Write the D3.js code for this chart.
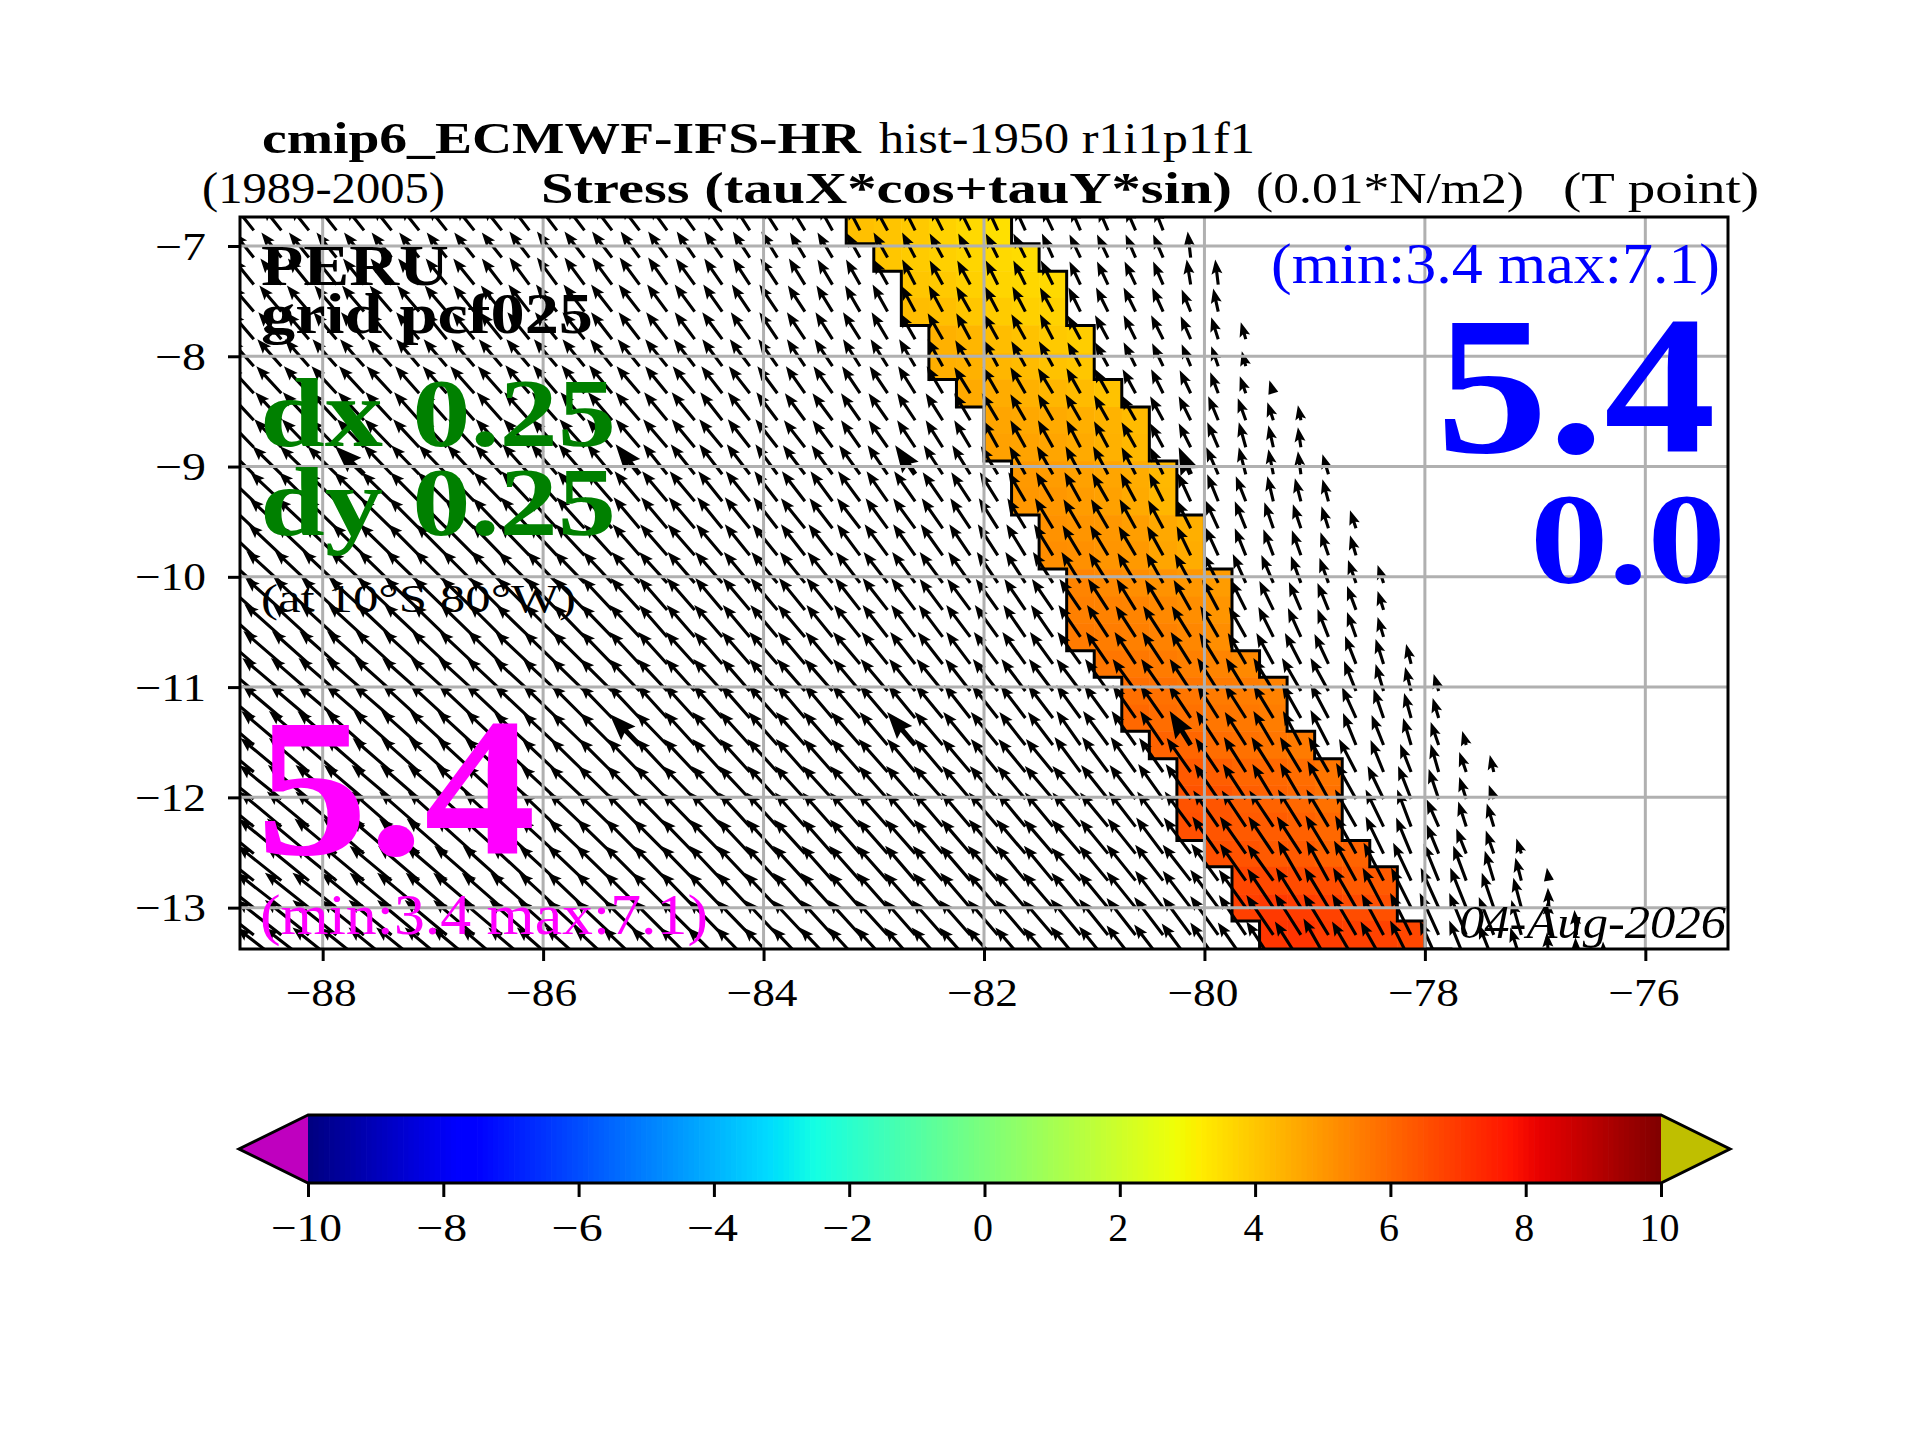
<!DOCTYPE html>
<html>
<head>
<meta charset="utf-8">
<title>Stress PERU</title>
<script src="https://cdn.jsdelivr.net/npm/d3@7"></script>
<style>
  body { margin: 0; background: #fff; }
  text { font-family: "Liberation Serif", serif; }
</style>
</head>
<body>
<div class="chart"></div>
<script>
const lonTicks = [-88, -86, -84, -82, -80, -78, -76];
const latTicks = [-7, -8, -9, -10, -11, -12, -13];
const barTicks = [-10, -8, -6, -4, -2, 0, 2, 4, 6, 8, 10];

// grid cell edges, last one only carries the arrows cut by the frame
const lonStart = -88.75;
const lonStep = 0.25;
const latEdges = [-6.737, -6.98, -7.23, -7.47, -7.72, -7.97, -8.21, -8.46, -8.70, -8.95, -9.19, -9.44, -9.68, -9.93,
  -10.18, -10.42, -10.67, -10.91, -11.16, -11.40, -11.65, -11.89, -12.14, -12.39, -12.63, -12.88, -13.12, -13.375, -13.62];

// coastal band: first column of each row, then its six values
const bandStart = [22, 23, 24, 24, 25, 25, 26, 27, 27, 28, 28, 29, 29, 30, 30, 30, 31, 32, 32, 33, 34, 34, 34, 35, 36, 36, 37];
const bandValues = [
  [4.13, 4.05, 3.95, 3.75, 3.6, 3.46],
  [4.0, 3.9, 3.8, 3.7, 3.6, 3.55],
  [4.0, 3.95, 3.8, 3.7, 3.65, 3.6],
  [4.2, 4.15, 4.0, 3.9, 3.8, 3.75],
  [4.45, 4.35, 4.2, 4.1, 3.95, 3.85],
  [4.5, 4.45, 4.35, 4.25, 4.1, 4.0],
  [4.6, 4.55, 4.45, 4.35, 4.25, 4.1],
  [4.7, 4.65, 4.6, 4.5, 4.4, 4.25],
  [4.8, 4.75, 4.7, 4.6, 4.45, 4.3],
  [4.95, 4.9, 4.8, 4.7, 4.55, 4.3],
  [5.0, 5.0, 4.9, 4.8, 4.6, 4.35],
  [5.1, 5.05, 5.0, 4.85, 4.65, 4.5],
  [5.2, 5.15, 5.05, 4.95, 4.7, 4.55],
  [5.4, 5.3, 5.2, 5.1, 5.0, 4.9],
  [5.5, 5.45, 5.4, 5.3, 5.2, 5.05],
  [5.6, 5.55, 5.5, 5.45, 5.35, 5.2],
  [5.7, 5.65, 5.6, 5.5, 5.4, 5.3],
  [5.85, 5.8, 5.7, 5.6, 5.55, 5.45],
  [6.0, 5.9, 5.8, 5.7, 5.65, 5.55],
  [6.1, 6.05, 5.9, 5.8, 5.7, 5.6],
  [6.3, 6.2, 6.05, 6.0, 5.9, 5.7],
  [6.45, 6.4, 6.2, 6.1, 6.0, 5.8],
  [6.5, 6.4, 6.3, 6.25, 6.15, 6.0],
  [6.5, 6.45, 6.3, 6.3, 6.1, 6.1],
  [6.7, 6.65, 6.6, 6.55, 6.3, 6.3],
  [6.85, 7.0, 6.9, 6.8, 6.6, 6.5],
  [7.05, 7.1, 6.9, 6.85, 6.8, 6.7]
];

// arrow components per row, a row stops at the coast
const tauX = [
  [-19,-19,-19,-19,-19,-19,-19,-19,-19,-19, -19,-19,-19,-19,-19,-18,-18,-17,-16,-16, -15,-14,-13,-13,-12,-12,-12,-11,-11,-11, -10,-10,-10,-9],
  [-20,-20,-20,-20,-20,-20,-20,-20,-20,-20, -20,-20,-20,-20,-19,-19,-18,-18,-17,-16, -15,-15,-14,-14,-13,-13,-12,-12,-12,-11, -11,-11,-10,-10,-3],
  [-21,-21,-21,-21,-21,-21,-21,-21,-21,-20, -20,-20,-20,-20,-20,-19,-19,-18,-17,-17, -16,-15,-14,-14,-13,-13,-13,-12,-12,-12, -11,-11,-11,-10,-4,-3],
  [-22,-22,-22,-22,-22,-22,-22,-22,-21,-21, -21,-21,-21,-21,-21,-20,-20,-19,-18,-18, -17,-16,-15,-15,-14,-14,-14,-13,-13,-13, -12,-12,-12,-11,-9,-5],
  [-23,-23,-23,-23,-23,-23,-23,-22,-22,-22, -22,-22,-22,-21,-21,-21,-20,-20,-19,-18, -18,-17,-17,-16,-15,-15,-14,-14,-14,-13, -13,-13,-12,-12,-10,-7,-5],
  [-24,-24,-24,-24,-24,-24,-23,-23,-23,-23, -23,-23,-22,-22,-22,-22,-21,-20,-20,-19, -18,-18,-17,-17,-16,-15,-15,-14,-14,-14, -13,-13,-12,-11,-9,-7,-4],
  [-25,-25,-25,-25,-25,-25,-24,-24,-24,-24, -24,-24,-23,-23,-23,-22,-22,-21,-21,-20, -19,-19,-18,-18,-17,-16,-16,-15,-15,-15, -14,-14,-13,-12,-11,-8,-6,-4],
  [-26,-26,-26,-26,-26,-26,-25,-25,-25,-25, -25,-25,-24,-24,-24,-23,-23,-22,-22,-21, -20,-20,-19,-19,-18,-17,-16,-16,-15,-15, -15,-14,-14,-13,-12,-10,-8,-6,-3],
  [-27,-27,-27,-27,-27,-27,-26,-26,-26,-26, -26,-25,-25,-25,-24,-24,-23,-23,-22,-22, -21,-20,-19,-19,-18,-17,-16,-15,-15,-15, -14,-14,-14,-13,-12,-11,-7,-5,-3],
  [-29,-29,-29,-29,-29,-28,-28,-28,-27,-27, -27,-26,-26,-25,-24,-24,-24,-23,-23,-22, -22,-21,-21,-20,-20,-19,-18,-17,-16,-16, -15,-15,-14,-13,-12,-12,-7,-5,-3,-6],
  [-31,-31,-30,-30,-30,-30,-29,-29,-28,-28, -28,-27,-27,-26,-25,-25,-25,-24,-24,-23, -23,-22,-22,-21,-21,-20,-19,-18,-17,-17, -16,-16,-15,-14,-13,-11,-10,-6,-6,-6],
  [-32,-32,-32,-31,-31,-31,-30,-30,-30,-29, -29,-28,-28,-27,-26,-26,-26,-25,-25,-24, -24,-23,-23,-22,-22,-21,-20,-19,-18,-18, -17,-17,-16,-15,-14,-13,-11,-9,-8,-7,-6],
  [-33,-33,-33,-33,-32,-32,-31,-31,-31,-30, -30,-29,-29,-28,-27,-27,-27,-26,-25,-25, -24,-24,-23,-23,-22,-22,-21,-20,-19,-19, -18,-18,-17,-16,-14,-13,-11,-10,-9,-8,-6],
  [-35,-35,-34,-34,-34,-33,-33,-32,-32,-31, -31,-30,-30,-29,-28,-28,-27,-27,-26,-26, -25,-25,-24,-24,-23,-23,-22,-21,-20,-20, -19,-19,-18,-17,-16,-15,-13,-12,-10,-9,-8,-6],
  [-36,-36,-35,-35,-35,-34,-34,-33,-33,-32, -32,-31,-31,-30,-29,-28,-28,-27,-27,-27, -26,-26,-25,-25,-24,-23,-23,-22,-21,-21, -21,-20,-19,-18,-17,-16,-15,-14,-12,-11,-9,-6],
  [-37,-37,-36,-36,-36,-35,-35,-34,-34,-33, -33,-32,-31,-31,-30,-28,-28,-28,-27,-27, -27,-26,-26,-25,-24,-24,-24,-23,-22,-22, -22,-21,-20,-20,-19,-18,-17,-15,-13,-11,-9,-6],
  [-38,-38,-37,-37,-37,-36,-36,-35,-35,-34, -34,-33,-32,-31,-30,-29,-29,-28,-28,-28, -27,-27,-27,-26,-25,-25,-24,-24,-23,-23, -23,-22,-21,-21,-20,-19,-18,-17,-16,-14,-11,-8,-5],
  [-39,-39,-38,-38,-38,-37,-37,-36,-36,-35, -35,-34,-33,-32,-31,-30,-29,-29,-28,-28, -28,-28,-27,-27,-26,-26,-25,-25,-24,-24, -24,-23,-23,-22,-21,-21,-20,-20,-19,-18,-12,-8,-6,-5],
  [-40,-39,-39,-39,-38,-38,-37,-37,-36,-36, -35,-34,-33,-32,-31,-30,-30,-29,-29,-29, -28,-28,-28,-28,-27,-27,-26,-26,-25,-25, -24,-24,-23,-23,-22,-21,-21,-20,-19,-18,-14,-10,-7,-6],
  [-40,-40,-40,-39,-38,-38,-38,-37,-37,-36, -35,-34,-33,-32,-30,-31,-30,-30,-30,-29, -29,-29,-29,-28,-28,-28,-27,-27,-26,-25, -24,-25,-24,-23,-21,-22,-21,-20,-18,-18,-13,-12,-8,-8,-4],
  [-41,-41,-40,-40,-39,-39,-38,-38,-37,-37, -36,-35,-34,-33,-32,-31,-31,-30,-30,-30, -29,-29,-29,-29,-28,-28,-28,-27,-27,-27, -26,-26,-25,-24,-24,-23,-22,-22,-21,-20,-17,-13,-11,-8,-7,-4],
  [-42,-42,-41,-41,-40,-40,-39,-39,-38,-37, -37,-36,-35,-34,-33,-32,-32,-31,-31,-30, -30,-30,-30,-29,-29,-29,-28,-28,-28,-28, -28,-27,-26,-25,-25,-24,-23,-21,-21,-21,-20,-16,-13,-10,-7,-5],
  [-43,-42,-42,-41,-41,-40,-40,-39,-39,-38, -37,-36,-36,-35,-34,-33,-33,-32,-31,-31, -30,-30,-30,-30,-29,-29,-29,-29,-28,-28, -28,-28,-27,-26,-26,-25,-24,-24,-23,-22,-21,-18,-14,-12,-8,-7],
  [-43,-43,-42,-42,-41,-41,-40,-40,-39,-39, -38,-37,-36,-35,-34,-34,-33,-33,-32,-31, -31,-30,-30,-30,-30,-29,-29,-29,-29,-29, -29,-28,-28,-27,-27,-26,-26,-25,-24,-23,-21,-18,-15,-12,-10,-8,-5],
  [-44,-44,-43,-43,-42,-42,-41,-41,-40,-39, -38,-38,-37,-36,-35,-34,-34,-33,-33,-32, -32,-31,-31,-31,-30,-30,-30,-30,-29,-29, -29,-29,-29,-28,-28,-27,-26,-26,-23,-22,-22,-20,-18,-15,-13,-9,-6,-2],
  [-45,-45,-44,-44,-43,-42,-42,-41,-41,-40, -39,-38,-37,-36,-35,-35,-34,-34,-33,-33, -32,-32,-31,-31,-31,-30,-30,-30,-30,-30, -29,-29,-29,-28,-28,-28,-27,-26,-25,-24,-23,-21,-20,-18,-16,-12,-8,-1],
  [-45,-45,-44,-44,-43,-43,-42,-42,-41,-41, -40,-39,-38,-37,-36,-35,-35,-34,-34,-33, -33,-32,-32,-32,-31,-31,-31,-30,-30,-30, -30,-29,-29,-29,-28,-28,-27,-27,-26,-25,-24,-22,-21,-19,-17,-15,-10,-1,-2],
  [-45,-45,-45,-44,-44,-43,-43,-42,-42,-41, -41,-40,-39,-38,-37,-36,-35,-35,-34,-34, -33,-33,-32,-32,-31,-31,-31,-31,-30,-30, -30,-29,-29,-29,-29,-28,-28,-27,-26,-25,-24,-23,-21,-19,-17,-15,-11,-2,-1,-1]
];
const tauY = [
  [24,24,24,24,24,24,24,24,24,24, 25,25,25,25,25,25,25,25,25,25, 25,25,25,24,24,24,24,24,24,23, 23,23,23,23],
  [25,25,25,25,25,25,25,25,25,25, 26,26,26,26,26,26,26,26,26,26, 25,25,25,25,25,24,24,24,24,24, 23,23,23,23,26],
  [26,26,26,26,26,26,26,26,26,26, 27,27,27,27,27,27,26,26,26,26, 26,25,25,25,25,24,24,24,24,24, 23,23,23,23,25,25],
  [26,26,26,26,26,26,26,26,26,26, 27,27,27,27,27,27,27,27,27,27, 26,26,26,27,26,26,25,25,25,24, 24,24,24,24,22,23],
  [27,27,27,27,27,27,27,27,27,27, 27,27,27,27,27,27,27,27,27,27, 27,27,27,27,26,26,26,25,25,25, 24,24,24,24,23,22,17],
  [27,27,27,27,27,27,27,27,27,27, 27,27,27,27,27,27,27,27,27,27, 27,27,27,27,27,27,26,26,25,25, 24,24,24,23,22,20,15],
  [27,27,27,27,27,27,27,27,27,27, 28,28,28,28,27,27,27,27,27,27, 27,27,27,27,27,27,26,26,26,25, 25,25,24,24,23,21,17,13],
  [28,28,28,28,28,28,28,28,28,28, 28,28,28,28,28,28,28,28,28,28, 27,27,27,27,27,27,27,27,26,26, 26,25,25,24,24,24,22,18,15],
  [28,28,28,28,28,28,28,28,28,28, 28,28,28,28,28,28,28,28,28,28, 27,27,27,27,27,27,27,27,27,27, 27,26,25,24,24,25,25,22,20],
  [28,28,28,28,28,29,29,29,29,29, 30,30,30,30,30,30,30,30,30,30, 29,29,29,29,29,29,29,28,28,28, 28,28,27,27,27,27,27,25,23,20],
  [29,29,29,29,29,29,29,29,29,29, 30,30,30,30,30,30,30,30,30,30, 30,30,30,30,30,29,29,29,29,29, 29,28,28,28,28,27,25,25,23,22],
  [30,30,30,30,30,30,30,30,30,30, 31,31,31,31,31,31,31,31,31,31, 30,30,30,30,30,30,30,30,30,30, 29,29,29,28,28,28,27,26,24,22,18],
  [31,31,31,31,31,31,31,31,31,31, 31,31,31,31,31,31,31,31,31,31, 31,31,31,31,31,31,31,31,31,31, 30,30,29,29,29,28,27,26,25,23,20],
  [32,32,32,32,32,32,32,32,32,32, 31,31,31,31,31,31,31,31,31,31, 31,31,31,31,31,31,31,31,31,31, 31,30,30,30,29,29,29,28,27,25,23,18],
  [32,32,32,32,32,32,32,32,32,32, 32,32,32,32,32,32,32,32,32,32, 32,32,32,32,32,31,31,31,31,31, 31,31,31,30,30,30,30,29,28,27,24,19],
  [33,33,33,33,33,33,33,33,33,33, 32,32,32,32,32,32,32,32,32,32, 32,32,32,32,32,32,32,32,32,32, 32,32,31,31,31,31,30,30,29,28,25,20],
  [33,33,33,33,33,33,33,33,33,33, 32,32,32,32,32,32,32,32,32,32, 32,32,32,32,32,32,32,32,32,32, 32,32,32,32,32,31,31,31,31,30,28,25,20],
  [33,33,33,33,33,33,33,33,33,33, 32,32,32,32,32,32,32,32,32,32, 32,32,32,32,32,32,32,32,32,32, 32,32,32,32,32,33,33,33,33,33,30,27,24,17],
  [33,33,33,33,33,33,34,34,34,34, 33,33,33,33,33,33,33,33,33,33, 33,33,33,33,33,33,33,33,33,33, 33,33,33,33,33,33,33,33,34,34,31,29,25,20],
  [34,34,34,34,34,34,34,34,34,34, 32,32,32,32,31,32,33,33,33,33, 33,33,33,33,33,33,33,33,33,33, 34,34,34,34,34,34,33,34,34,35,32,30,27,23,14],
  [34,34,34,34,34,34,34,34,34,34, 33,33,33,33,33,33,33,33,33,33, 33,33,33,33,33,33,33,33,33,33, 35,35,35,34,34,34,35,35,35,35,33,32,28,28,20,17],
  [34,34,34,34,34,34,34,34,34,34, 33,33,33,33,33,33,33,33,33,33, 33,33,33,33,33,33,33,33,33,33, 33,34,34,35,35,35,35,35,36,38,36,33,33,30,22,14],
  [35,35,35,35,35,35,35,35,35,35, 34,34,34,34,34,34,34,34,34,34, 34,34,34,34,34,34,34,34,34,34, 34,34,35,35,35,36,36,36,37,37,37,37,37,27,25,23],
  [35,35,35,35,35,35,35,35,35,35, 34,34,34,34,34,34,34,34,34,34, 34,34,34,34,34,34,34,34,34,34, 34,34,35,36,36,37,37,37,37,38,38,37,36,29,25,23,15],
  [35,35,35,35,35,35,35,35,35,35, 35,35,35,35,35,35,35,35,35,35, 35,35,35,35,35,35,35,35,35,35, 33,35,36,36,36,37,37,36,40,40,40,38,38,37,35,30,23,13],
  [35,35,35,35,35,35,35,35,35,35, 35,35,35,35,35,35,35,35,35,35, 35,35,35,35,35,35,35,35,35,35, 35,35,36,37,37,38,38,39,40,40,40,40,40,40,40,35,30,20],
  [35,35,35,35,35,35,35,35,35,35, 35,35,35,35,35,35,35,35,35,35, 35,35,35,35,35,35,35,35,35,35, 36,36,37,38,38,39,40,40,41,41,41,41,42,42,42,38,35,35,25],
  [35,35,35,35,35,35,35,35,35,35, 35,35,35,35,35,35,35,35,35,35, 35,35,35,35,35,35,35,35,35,35, 36,36,37,38,39,40,40,41,41,44,41,41,42,42,42,38,35,30,25,21]
];
// these grid points carry a heavier arrow, row then column
const boldPoints = ["9,4", "9,14", "9,24", "9,34", "19,14", "19,24", "19,34"];

const width = 1920, height = 1440;
const plot = { left: 240, right: 1728, top: 217, bottom: 949 };
const bar = { left: 308, right: 1661, top: 1115, bottom: 1183, tipLeft: 239, tipRight: 1730 };
const lineW = 3;

const svg = d3.select(".chart").append("svg")
  .attr("width", width)
  .attr("height", height)
  .style("display", "block");

svg.append("defs").append("clipPath").attr("id", "plotClip")
  .append("rect")
  .attr("x", plot.left).attr("y", plot.top)
  .attr("width", plot.right - plot.left).attr("height", plot.bottom - plot.top);

const xScale = d3.scaleLinear().domain([lonStart, lonStart + 54 * lonStep]).range([plot.left, plot.right]);
const yScale = d3.scaleLinear().domain([latEdges[0], latEdges[27]]).range([plot.top, plot.bottom]);
const barScale = d3.scaleLinear().domain([-10, 10]).range([bar.left, bar.right]);
const arrowScale = d3.scaleLinear().domain([0, 50]).range([0, 50]);

// jet, channel by channel
const redCh = d3.scaleLinear().domain([0, 0.35, 0.66, 0.89, 1]).range([0, 0, 1, 1, 0.5]);
const greenCh = d3.scaleLinear().domain([0, 0.125, 0.375, 0.64, 0.91, 1]).range([0, 0, 1, 1, 0, 0]);
const blueCh = d3.scaleLinear().domain([0, 0.11, 0.34, 0.65, 1]).range([0.5, 1, 1, 0, 0]);
const valueT = d3.scaleLinear().domain([-10, 10]).range([0, 1]);
const jet = v => {
  const t = valueT(v);
  return d3.rgb(255 * redCh(t), 255 * greenCh(t), 255 * blueCh(t)).formatHex();
};

const lonEdge = k => lonStart + k * lonStep;
const plotArea = svg.append("g").attr("clip-path", "url(#plotClip)");

//band cells
const cells = bandValues.flatMap((row, r) => row.map((v, i) => ({ r, k: bandStart[r] + i, v })));
plotArea.selectAll("rect.cell")
  .data(cells)
  .join("rect")
  .attr("class", "cell")
  .attr("x", d => xScale(lonEdge(d.k)))
  .attr("y", d => yScale(latEdges[d.r]))
  .attr("width", d => xScale(lonEdge(d.k + 1)) - xScale(lonEdge(d.k)) + 0.5)
  .attr("height", d => yScale(latEdges[d.r + 1]) - yScale(latEdges[d.r]) + 0.5)
  .attr("fill", d => jet(d.v));

//stepped outline on both sides of the band
const stairs = offset => {
  let path = "";
  bandStart.forEach((k, r) => {
    const x = xScale(lonEdge(k + offset));
    path += (r === 0 ? "M" : "L") + x + "," + yScale(latEdges[r]) + "L" + x + "," + yScale(latEdges[r + 1]);
  });
  return path;
};
plotArea.selectAll("path.coast")
  .data([stairs(0), stairs(6) + "l" + (xScale(lonEdge(44)) - xScale(lonEdge(43))) + ",0"])
  .join("path")
  .attr("class", "coast")
  .attr("d", d => d)
  .attr("fill", "none")
  .attr("stroke", "#000")
  .attr("stroke-width", lineW);

//arrows, tail on the cell centre
const arrowPath = (len, w, headW, headL, headAx) => {
  const k = len < headL ? len / headL : 1;
  const pts = [
    [0, -w / 2], [len - headAx * k, -w / 2], [len - headL * k, -headW * k / 2], [len, 0],
    [len - headL * k, headW * k / 2], [len - headAx * k, w / 2], [0, w / 2]
  ];
  if (k < 1) pts.splice(0, 2), pts.splice(-2, 2);
  return d3.line()(pts) + "Z";
};
const arrows = tauX.flatMap((row, r) => row.map((u, c) => ({ r, c, u, v: tauY[r][c] })));
plotArea.selectAll("path.arrow")
  .data(arrows)
  .join("path")
  .attr("class", "arrow")
  .attr("transform", d => {
    const x0 = xScale(lonEdge(d.c + 0.5));
    const y0 = yScale((latEdges[d.r] + latEdges[d.r + 1]) / 2);
    return `translate(${x0},${y0}) rotate(${Math.atan2(-d.v, d.u) * 180 / Math.PI})`;
  })
  .attr("d", d => {
    const len = arrowScale(Math.hypot(d.u, d.v));
    return boldPoints.includes(d.r + "," + d.c)
      ? arrowPath(len, 5, 20, 27, 24)
      : arrowPath(len, 3.1, 11, 14.5, 12.5);
  })
  .attr("fill", "#000");

//grid
plotArea.selectAll("line.gridX")
  .data(lonTicks)
  .join("line")
  .attr("class", "gridX")
  .attr("x1", d => xScale(d)).attr("x2", d => xScale(d))
  .attr("y1", plot.top).attr("y2", plot.bottom)
  .attr("stroke", "#b0b0b0").attr("stroke-width", lineW);
plotArea.selectAll("line.gridY")
  .data(latTicks)
  .join("line")
  .attr("class", "gridY")
  .attr("x1", plot.left).attr("x2", plot.right)
  .attr("y1", d => yScale(d)).attr("y2", d => yScale(d))
  .attr("stroke", "#b0b0b0").attr("stroke-width", lineW);

svg.append("rect")
  .attr("x", plot.left).attr("y", plot.top)
  .attr("width", plot.right - plot.left).attr("height", plot.bottom - plot.top)
  .attr("fill", "none").attr("stroke", "#000").attr("stroke-width", lineW);

const minus = v => String(v).replace("-", "\u2212");
const tickWidth = v => (v < 0 ? 31 : 0) + String(Math.abs(v)).length * 20;

const styleAxis = (g, baseline) => {
  g.select(".domain").remove();
  g.selectAll("line").attr("stroke", "#000").attr("stroke-width", lineW);
  g.selectAll("text")
    .attr("fill", "#000")
    .style("font-size", "40px")
    .style("font-family", '"Liberation Serif", serif')
    .attr("textLength", d => tickWidth(d))
    .attr("lengthAdjust", "spacingAndGlyphs");
  if (baseline !== undefined) g.selectAll("text").attr("y", baseline).attr("dy", 0).attr("x", -2);
};

svg.append("g")
  .attr("transform", `translate(0,${plot.bottom})`)
  .call(d3.axisBottom(xScale).tickValues(lonTicks).tickFormat(minus).tickSize(12).tickSizeOuter(0))
  .call(g => styleAxis(g, 57));

svg.append("g")
  .attr("transform", `translate(${plot.left},0)`)
  .call(d3.axisLeft(yScale).tickValues(latTicks).tickFormat(minus).tickSize(12).tickSizeOuter(0).tickPadding(22))
  .call(g => styleAxis(g))
  .call(g => g.selectAll("text").attr("dy", 13));

//colorbar
const barSteps = d3.range(-10, 10, 20 / 256);
svg.selectAll("rect.barStep")
  .data(barSteps)
  .join("rect")
  .attr("class", "barStep")
  .attr("x", d => barScale(d))
  .attr("y", bar.top)
  .attr("width", barScale(20 / 256) - barScale(0) + 0.7)
  .attr("height", bar.bottom - bar.top)
  .attr("fill", d => jet(d + 10 / 256));
const barMid = (bar.top + bar.bottom) / 2;
svg.append("path")
  .attr("d", `M${bar.left},${bar.top}L${bar.tipLeft},${barMid}L${bar.left},${bar.bottom}Z`)
  .attr("fill", "#bf00bf");
svg.append("path")
  .attr("d", `M${bar.right},${bar.top}L${bar.tipRight},${barMid}L${bar.right},${bar.bottom}Z`)
  .attr("fill", "#bfbf00");
svg.append("path")
  .attr("d", `M${bar.left},${bar.top}L${bar.tipLeft},${barMid}L${bar.left},${bar.bottom}L${bar.right},${bar.bottom}L${bar.tipRight},${barMid}L${bar.right},${bar.top}Z`)
  .attr("fill", "none").attr("stroke", "#000").attr("stroke-width", lineW);
svg.append("g")
  .attr("transform", `translate(0,${bar.bottom})`)
  .call(d3.axisBottom(barScale).tickValues(barTicks).tickFormat(minus).tickSize(14).tickSizeOuter(0))
  .call(g => styleAxis(g, 58));

//texts, placed by their left and right ends
const label = (str, x1, x2, baseline, size, opts = {}) => svg.append("text")
  .attr("x", x1)
  .attr("y", baseline)
  .attr("textLength", x2 - x1)
  .attr("lengthAdjust", "spacingAndGlyphs")
  .attr("font-size", size)
  .attr("font-weight", opts.bold ? "bold" : "normal")
  .attr("font-style", opts.italic ? "italic" : "normal")
  .attr("fill", opts.color || "#000")
  .text(str);

label("cmip6_ECMWF-IFS-HR", 262, 861, 153, 45, { bold: true });
label("hist-1950 r1i1p1f1", 879, 1255, 153, 45);
label("(1989-2005)", 202, 445, 203, 45);
label("Stress (tauX*cos+tauY*sin)", 541, 1232, 203, 45, { bold: true });
label("(0.01*N/m2)", 1256, 1524, 203, 45);
label("(T point)", 1563, 1759, 203, 45);

label("PERU", 261, 449, 285, 57, { bold: true });
label("grid pcf025", 261, 593, 333, 57, { bold: true });
label("dx 0.25", 260, 616, 446, 97, { bold: true, color: "#008000" });
label("dy 0.25", 260, 616, 535, 97, { bold: true, color: "#008000" });
label("(at 10\u00b0S 80\u00b0W)", 261, 576, 612, 40);
label("5.4", 256, 536, 854, 198, { bold: true, color: "#ff00ff" });
label("(min:3.4 max:7.1)", 260, 708, 934, 58, { color: "#ff00ff" });
label("(min:3.4 max:7.1)", 1271, 1720, 283, 58, { color: "#0000ff" });
label("5.4", 1436, 1716, 452, 198, { bold: true, color: "#0000ff" });
label("0.0", 1530, 1726, 583, 130, { bold: true, color: "#0000ff" });
label("04-Aug-2026", 1459, 1726, 938, 46, { italic: true });
</script>
</body>
</html>
